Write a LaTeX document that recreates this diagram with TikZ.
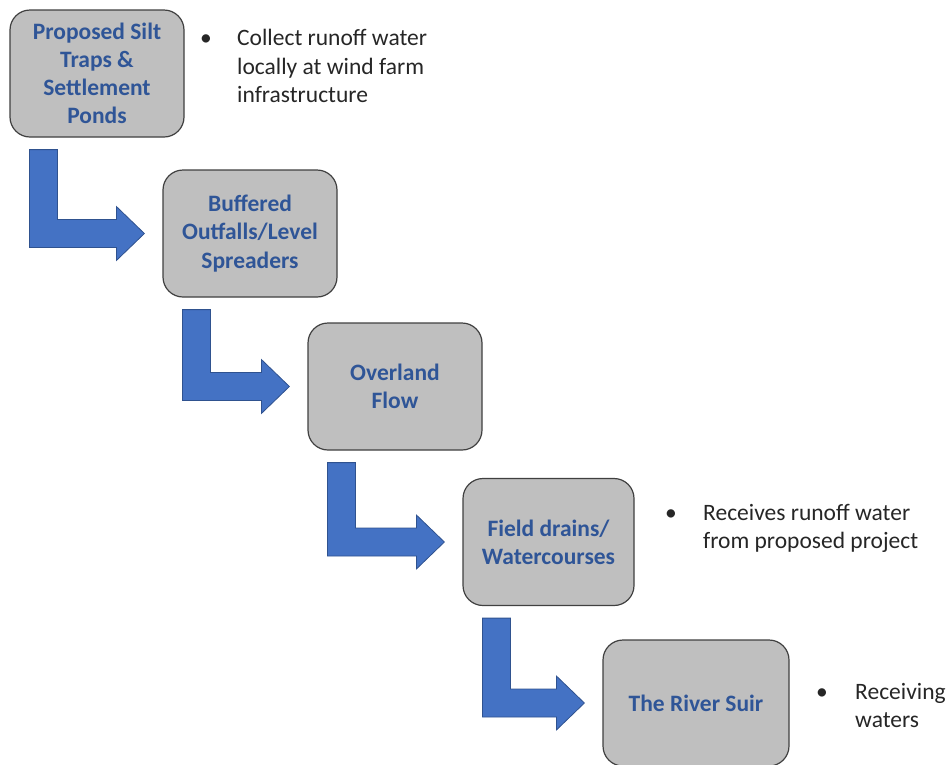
\documentclass[tikz,border=0pt]{standalone}
\usepackage{fontspec}
\setmainfont{Carlito}
\usepackage{xcolor}
\usetikzlibrary{positioning, calc}
\definecolor{boxgray}{RGB}{191,191,191}
\definecolor{boxline}{RGB}{64,64,64}
\definecolor{textblue}{RGB}{47,85,151}
\definecolor{arrowblue}{RGB}{68,114,196}
\definecolor{arrowline}{RGB}{47,82,143}

% bent block arrow from below one box to the left side of the next
\newcommand{\bentarrow}[2]{%
  \coordinate (#1-out) at ($(#1.south west)+(20pt,-12pt)$);
  \coordinate (#2-in) at ($(#2.west)+(-18pt,0pt)$);
  \fill[flowarr]
    (#1-out) -- ++(28pt,0pt)
    -- ([xshift=28pt,yshift=14pt]#1-out |- #2-in)
    -- ([xshift=-28pt,yshift=14pt]#2-in) -- ([xshift=-28pt,yshift=27pt]#2-in)
    -- (#2-in)
    -- ([xshift=-28pt,yshift=-27pt]#2-in) -- ([xshift=-28pt,yshift=-14pt]#2-in)
    -- ([yshift=-14pt]#1-out |- #2-in)
    -- cycle;}

\begin{document}
\begin{tikzpicture}[x=1pt,y=-1pt,
  stepbox/.style={draw=boxline, line width=1.2pt, fill=boxgray, rounded corners=20pt,
    minimum width=174pt, minimum height=127pt, align=center, text=textblue,
    font=\fontsize{23.5}{28.2}\selectfont\bfseries},
  note/.style={anchor=west, inner sep=0pt, text=black!85,
    font=\fontsize{23.5}{28.4}\selectfont},
  flowarr/.style={fill=arrowblue, draw=arrowline, line width=0.8pt, line join=miter}]
  \useasboundingbox (0,0) rectangle (946,764);

  \node[stepbox] (silt) at (97,73.5) {Proposed Silt\\Traps \&\\Settlement\\Ponds};
  \node[stepbox] (outfall) at (250,233.5) {Buffered\\Outfalls/Level\\Spreaders};
  \node[stepbox] (overland) at (395,386.5) {Overland\\Flow};
  \node[stepbox, minimum width=171pt] (drains) at (548.5,542) {Field drains/\\Watercourses};
  \node[stepbox, minimum width=186pt, minimum height=126pt] (river) at (696,703) {The River Suir};

  \bentarrow{silt}{outfall}
  \bentarrow{outfall}{overland}
  \bentarrow{overland}{drains}
  \bentarrow{drains}{river}

  \node[note] (collect) at (200,68.5)
    {\begin{tabular}{@{}p{37pt}@{}l@{}}•&Collect runoff water\\&locally at wind farm\\&infrastructure\end{tabular}};
  \node[note] (receives) at (665,529)
    {\begin{tabular}{@{}p{38pt}@{}l@{}}•&Receives runoff water\\&from proposed project\end{tabular}};
  \node[note] (receiving) at (816,708)
    {\begin{tabular}{@{}p{39pt}@{}l@{}}•&Receiving\\&waters\end{tabular}};
\end{tikzpicture}
\end{document}
